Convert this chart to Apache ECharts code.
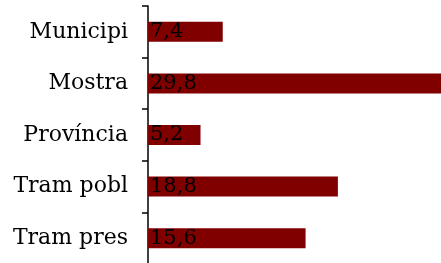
<!DOCTYPE html>
<html>
<head>
    <meta charset="UTF-8">
    <title>bar</title>
    <script src="https://cdn.jsdelivr.net/npm/echarts@6/dist/echarts.min.js"></script>
    <style>
        html, body { margin: 0; padding: 0; background: #fff; }
        #box { width: 441px; height: 263px; }
    </style>
</head>
<body>
    <div id="box"></div>
    <script>
        // categories top to bottom
        const categories = ['Municipi', 'Mostra', 'Província', 'Tram pobl', 'Tram pres']
        const values = [7.4, 29.8, 5.2, 18.8, 15.6]

        var myChart = echarts.init(document.getElementById('box'))
        var option = {
            animation: false,
            grid: { left: 148, width: 303, top: 6, height: 258, outerBoundsMode: 'none' },
            xAxis: { type: 'value', min: 0, max: 30, show: false },
            yAxis: {
                type: 'category',
                data: categories,
                inverse: true,
                axisLine: { show: true, lineStyle: { color: '#000', width: 1.5 } },
                axisTick: { show: true, inside: false, length: 6, lineStyle: { color: '#000', width: 1.5 } },
                axisLabel: {
                    color: '#000',
                    fontFamily: 'DejaVu Serif',
                    fontSize: 22,
                    margin: 20
                }
            },
            series: [{
                type: 'bar',
                data: values,
                barWidth: 20,
                itemStyle: { color: '#800000' },
                label: {
                    show: true,
                    position: 'insideLeft',
                    distance: 2,
                    color: '#000',
                    fontFamily: 'DejaVu Serif',
                    fontSize: 21,
                    formatter: p => String(p.value).replace('.', ',')
                }
            }]
        }
        myChart.setOption(option)
    </script>
</body>
</html>
